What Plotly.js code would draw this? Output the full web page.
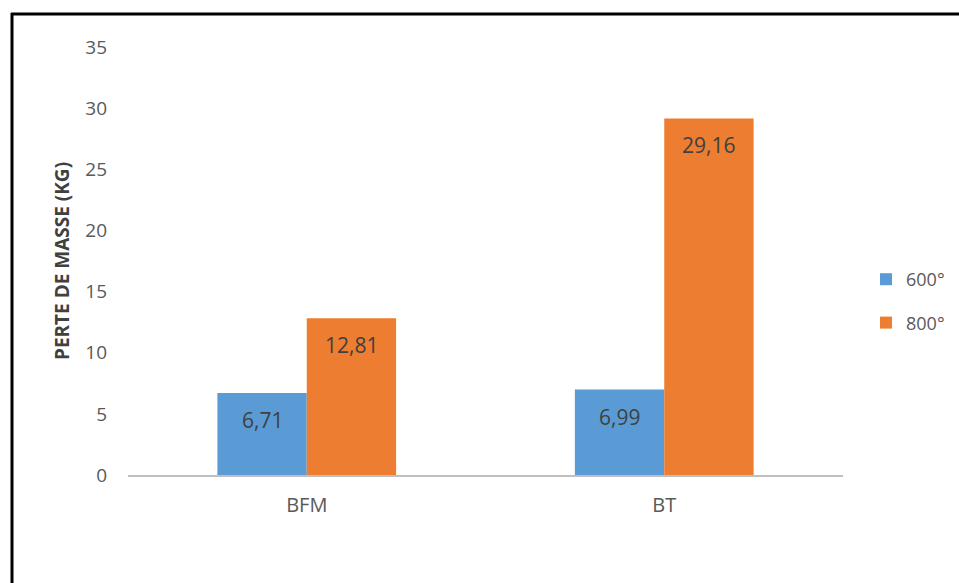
<!DOCTYPE html>
<html>
<head>
<meta charset="utf-8">
<script src="https://cdn.plot.ly/plotly-3.0.1.min.js"></script>
<style>
  html, body { margin: 0; padding: 0; background: #fff; }
  #chart { width: 959px; height: 583px; }
</style>
</head>
<body>
<div id="chart"></div>
<script>
// Perte de masse par type de béton et température
const categories = ['BFM', 'BT'];
const seriesNames = ['600°', '800°'];
const values600 = [6.71, 6.99];
const values800 = [12.81, 29.16];
const yTicks = [0, 5, 10, 15, 20, 25, 30, 35];
const colors = ['#5b9bd5', '#ed7d31'];

const fmt = v => v.toFixed(2).replace('.', ',');

const W = 959, H = 583;
const M = { l: 128, r: 116, t: 47, b: 108 };
const pw = W - M.l - M.r, ph = H - M.t - M.b;
const px = x => (x - M.l) / pw;
const py = y => (H - M.b - y) / ph;

const font = "'Open Sans', 'Liberation Sans', sans-serif";
const bargap = 0.5;
const series = [values600, values800];
const barW = (1 - bargap) / series.length;

const traces = series.map((vals, i) => ({
  type: 'bar',
  name: seriesNames[i],
  x: categories,
  y: vals,
  marker: { color: colors[i] },
  legendgroup: 'g' + i,
  hoverinfo: 'none'
}));

// value labels sit inside each bar, just below its top
const annotations = [];
series.forEach((vals, i) => {
  vals.forEach((v, c) => {
    annotations.push({
      xref: 'x', yref: 'y',
      x: c + (i - (series.length - 1) / 2) * barW,
      y: v,
      yanchor: 'middle',
      yshift: -27,
      text: fmt(v),
      showarrow: false,
      font: { family: font, size: 21, color: '#404040' }
    });
  });
});

const layout = {
  width: W, height: H,
  margin: Object.assign({ autoexpand: false }, M),
  paper_bgcolor: '#ffffff',
  plot_bgcolor: '#ffffff',
  barmode: 'group',
  bargap: bargap,
  bargroupgap: 0,
  showlegend: true,
  legend: {
    x: px(866), y: py(301), xanchor: 'left', yanchor: 'middle',
    font: { family: font, size: 18, color: '#595959' },
    traceorder: 'grouped',
    tracegroupgap: 17,
    itemwidth: 30
  },
  xaxis: {
    type: 'category',
    showgrid: false,
    showline: true,
    linecolor: '#bfbfbf',
    linewidth: 1.5,
    ticks: '',
    tickfont: { family: font, size: 20, color: '#595959' },
    ticklabelstandoff: 11,
    zeroline: false
  },
  yaxis: {
    range: [0, 35],
    tickvals: yTicks,
    ticktext: yTicks.map(String),
    showgrid: false,
    showline: false,
    zeroline: false,
    ticks: '',
    ticklabelstandoff: 20,
    tickfont: { family: font, size: 19, color: '#595959' },
    title: {
      text: 'PERTE DE MASSE (KG)',
      font: { family: font, size: 19, color: '#404040', weight: 'bold' },
      standoff: 10
    }
  },
  annotations: annotations,
  shapes: [
    { type: 'line', xref: 'paper', yref: 'paper',
      x0: px(12), x1: px(12), y0: py(13), y1: py(H + 5),
      line: { color: '#000000', width: 3 } },
    { type: 'line', xref: 'paper', yref: 'paper',
      x0: px(11), x1: px(W + 5), y0: py(14), y1: py(14),
      line: { color: '#000000', width: 3 } }
  ]
};

Plotly.newPlot('chart', traces, layout, { displayModeBar: false, staticPlot: true });
</script>
</body>
</html>
